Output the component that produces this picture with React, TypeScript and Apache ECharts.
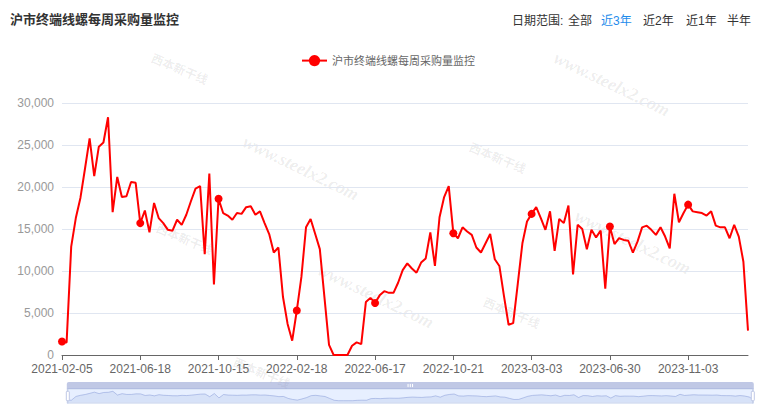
import React, { useEffect, useRef } from "react";
import * as echarts from "echarts";

const chartTitle = "沪市终端线螺每周采购量监控";
const seriesName = "沪市终端线螺每周采购量监控";
const rangeLabel = "日期范围:";
const rangeOptions = ["全部", "近3年", "近2年", "近1年", "半年"];
const activeRange = "近3年";

const dates = [
  "2021-02-05", "2021-02-26", "2021-03-05", "2021-03-12", "2021-03-19", "2021-03-26", "2021-04-02", "2021-04-09", "2021-04-16", "2021-04-23",
  "2021-04-30", "2021-05-07", "2021-05-14", "2021-05-21", "2021-05-28", "2021-06-04", "2021-06-11", "2021-06-18", "2021-06-25", "2021-07-02",
  "2021-07-09", "2021-07-16", "2021-07-23", "2021-07-30", "2021-08-06", "2021-08-13", "2021-08-20", "2021-08-27", "2021-09-03", "2021-09-10",
  "2021-09-17", "2021-09-24", "2021-10-01", "2021-10-08", "2021-10-15", "2021-10-22", "2021-10-29", "2021-11-05", "2021-11-12", "2021-11-19",
  "2021-11-26", "2021-12-03", "2021-12-10", "2021-12-17", "2021-12-24", "2021-12-31", "2022-01-07", "2022-01-14", "2022-01-21", "2022-01-28",
  "2022-02-11", "2022-02-18", "2022-02-25", "2022-03-04", "2022-03-11", "2022-03-18", "2022-03-25", "2022-04-01", "2022-04-08", "2022-04-15",
  "2022-04-22", "2022-04-29", "2022-05-06", "2022-05-13", "2022-05-20", "2022-05-27", "2022-06-03", "2022-06-10", "2022-06-17", "2022-06-24",
  "2022-07-01", "2022-07-08", "2022-07-15", "2022-07-22", "2022-07-29", "2022-08-05", "2022-08-12", "2022-08-19", "2022-08-26", "2022-09-02",
  "2022-09-09", "2022-09-16", "2022-09-23", "2022-09-30", "2022-10-14", "2022-10-21", "2022-10-28", "2022-11-04", "2022-11-11", "2022-11-18",
  "2022-11-25", "2022-12-02", "2022-12-09", "2022-12-16", "2022-12-23", "2022-12-30", "2023-01-06", "2023-01-13", "2023-02-03", "2023-02-10",
  "2023-02-17", "2023-02-24", "2023-03-03", "2023-03-10", "2023-03-17", "2023-03-24", "2023-03-31", "2023-04-07", "2023-04-14", "2023-04-21",
  "2023-04-28", "2023-05-05", "2023-05-12", "2023-05-19", "2023-05-26", "2023-06-02", "2023-06-09", "2023-06-16", "2023-06-23", "2023-06-30",
  "2023-07-07", "2023-07-14", "2023-07-21", "2023-07-28", "2023-08-04", "2023-08-11", "2023-08-18", "2023-08-25", "2023-09-01", "2023-09-08",
  "2023-09-15", "2023-09-22", "2023-09-29", "2023-10-13", "2023-10-20", "2023-10-27", "2023-11-03", "2023-11-10", "2023-11-17", "2023-11-24",
  "2023-12-01", "2023-12-08", "2023-12-15", "2023-12-22", "2023-12-29", "2024-01-05", "2024-01-12", "2024-01-19", "2024-01-26", "2024-02-02",
];

const purchases = [
  1600, 1500, 12900, 16300, 18700, 22200, 25800, 21300, 24800, 25300,
  28300, 17000, 21200, 18800, 18900, 20600, 20500, 15700, 17200, 14600,
  18100, 16300, 15700, 14900, 14800, 16100, 15500, 16700, 18300, 19800,
  20100, 12000, 21600, 8400, 18600, 16900, 16600, 16100, 16900, 16800,
  17600, 17700, 16700, 17100, 15700, 14400, 12200, 12800, 6900, 3700,
  1700, 5300, 9300, 15200, 16200, 14400, 12600, 6900, 1200, 0,
  0, 0, 0, 1100, 1500, 1300, 6300, 6800, 6200, 7100,
  7600, 7400, 7400, 8600, 10100, 10900, 10300, 9800, 11000, 11500,
  14600, 10600, 16400, 18800, 20100, 14500, 13900, 15200, 14700, 14300,
  12800, 12200, 13300, 14400, 11400, 10600, 7000, 3600, 3800, 8500,
  13300, 15900, 16800, 17600, 16300, 14900, 17100, 12400, 16200, 15700,
  17800, 9600, 15500, 15000, 12600, 14900, 14000, 14800, 7900, 15300,
  13200, 13900, 13700, 13600, 12200, 13500, 15200, 15400, 14900, 14300,
  15200, 14100, 12700, 19200, 15800, 16900, 17900, 17100, 17000, 16900,
  16600, 17100, 15400, 15200, 15200, 13900, 15500, 14100, 11100, 2900,
];

const FONT = "'Liberation Sans', 'Noto Sans CJK SC', sans-serif";

export default function App() {
  const ref = useRef<HTMLDivElement>(null);

  useEffect(() => {
    if (!ref.current) return;
    const chart = echarts.init(ref.current, null, { renderer: "svg" });

    const urlMarks = [
      [301, 168],
      [376, 296],
      [633, 242],
      [612, 84],
    ].map(([x, y]) => ({
      type: "text",
      x,
      y,
      rotation: -0.45,
      silent: true,
      z: -10,
      style: {
        text: "www.steelx2.com",
        fill: "rgba(0,0,0,0.08)",
        fontSize: 18,
        fontStyle: "italic",
        fontWeight: "bold",
        fontFamily: "'Liberation Serif', serif",
        align: "center",
        verticalAlign: "middle",
      },
    }));

    const logoMarks = [
      [185, 238],
      [498, 157],
      [512, 312],
      [262, 372],
      [180, 68],
    ].map(([x, y]) => ({
      type: "text",
      x,
      y,
      rotation: -0.4,
      silent: true,
      z: -10,
      style: {
        text: "西本新干线",
        fill: "rgba(0,0,0,0.08)",
        fontSize: 12,
        fontWeight: "bold",
        fontFamily: "'Noto Sans CJK SC', sans-serif",
        align: "center",
        verticalAlign: "middle",
      },
    }));

    const rangeX = [568, 601, 643, 686, 727];
    const rangeTexts = rangeOptions.map((t, i) => ({
      type: "text",
      x: rangeX[i],
      y: 21,
      style: {
        text: t,
        fill: t === activeRange ? "#1f8ceb" : "#333",
        fontSize: 12,
        fontFamily: FONT,
        verticalAlign: "middle",
        align: "left",
      },
    }));

    chart.setOption({
      animation: false,
      title: {
        text: chartTitle,
        left: 5,
        top: 8,
        textStyle: { fontSize: 13, fontWeight: "bold", color: "#333", fontFamily: FONT },
      },
      legend: {
        top: 50,
        left: "center",
        data: [seriesName],
        itemWidth: 25,
        itemHeight: 14,
        itemGap: 5,
        textStyle: { fontSize: 11, color: "#666", fontFamily: FONT },
      },
      graphic: [
        ...urlMarks,
        ...logoMarks,
        {
          type: "text",
          x: 512,
          y: 21,
          style: {
            text: rangeLabel,
            fill: "#333",
            fontSize: 12,
            fontFamily: FONT,
            verticalAlign: "middle",
            align: "left",
          },
        },
        ...rangeTexts,
      ],
      grid: { left: 62, right: 28, top: 103, bottom: 54 },
      xAxis: {
        type: "category",
        data: dates,
        boundaryGap: false,
        axisLine: { lineStyle: { color: "#666" } },
        axisTick: { interval: 16, length: 5, lineStyle: { color: "#666" } },
        axisLabel: { interval: 16, color: "#666", fontSize: 12, fontFamily: FONT, margin: 8 },
      },
      yAxis: {
        type: "value",
        min: 0,
        max: 30000,
        interval: 5000,
        axisLine: { show: false },
        axisTick: { show: false },
        axisLabel: { color: "#999", fontSize: 12, fontFamily: FONT, margin: 8 },
        splitLine: { lineStyle: { color: "#e0e6f1" } },
      },
      dataZoom: [
        {
          type: "slider",
          start: 0,
          end: 100,
          left: 64,
          right: 25,
          bottom: 12,
          height: 15,
          showDetail: false,
          borderColor: "#d2dbee",
          fillerColor: "rgba(135,175,274,0.2)",
          moveHandleSize: 7,
          dataBackground: {
            lineStyle: { color: "#d2dbee", width: 0.5 },
            areaStyle: { color: "#d2dbee", opacity: 0.9 },
          },
        },
        { type: "inside", start: 0, end: 100 },
      ],
      series: [
        {
          name: seriesName,
          type: "line",
          data: purchases,
          symbol: "circle",
          symbolSize: 8,
          showAllSymbol: "auto",
          itemStyle: { color: "#ff0000" },
          lineStyle: { color: "#ff0000", width: 2 },
        },
      ],
    });

    return () => chart.dispose();
  }, []);

  return (
    <div
      ref={ref}
      style={{ position: "absolute", left: 0, top: 0, width: 776, height: 409, background: "#fff" }}
    />
  );
}
